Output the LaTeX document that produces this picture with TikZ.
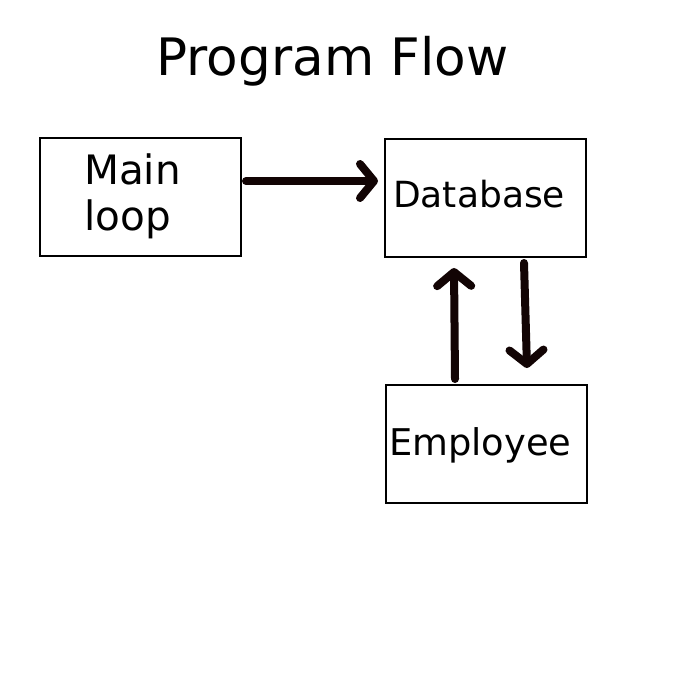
\documentclass[tikz,border=0pt]{standalone}
\usepackage{fontspec}
\setmainfont{DejaVu Sans}
\usetikzlibrary{arrows.meta}
\definecolor{arrowc}{RGB}{18,4,4}
\tikzset{
  box/.style={draw=black, line width=1.5pt, minimum width=201pt, minimum height=118pt, inner sep=0pt},
  txt/.style={inner sep=0pt, anchor=base west},
  flow/.style={draw=arrowc, line width=8pt, line cap=round, line join=round,
    -{Straight Barb[length=14pt, width=34pt, round]}},
}
\begin{document}
\begin{tikzpicture}[x=1pt, y=-1pt]
\useasboundingbox[fill=white] (0,0) rectangle (700,700);
\node[inner sep=0pt, anchor=base] (title) at (332.5,76) {\fontsize{51.6}{60}\selectfont Program Flow};
\node[box] (main) at (140.5,197) {};
\node[box] (db) at (485.5,198) {};
\node[box] (emp) at (486.5,444) {};
\node[txt] (mainl1) at (84,185) {\fontsize{40.5}{46}\selectfont Main};
\node[txt] (mainl2) at (84,231) {\fontsize{40.5}{46}\selectfont loop};
\node[txt] (dbl) at (393,208) {\fontsize{36}{40}\selectfont Database};
\node[txt] (empl) at (389,455) {\fontsize{36.8}{40}\selectfont Employee};
\coordinate (a1s) at (246,181);
\coordinate (a1e) at (378,181);
\coordinate (a2s) at (455,379);
\coordinate (a2e) at (454,268);
\coordinate (a3s) at (524,263);
\coordinate (a3e) at (527,368);
\draw[flow] (a1s) -- (a1e);
\draw[flow] (a2s) -- (a2e);
\draw[flow] (a3s) -- (a3e);
\end{tikzpicture}
\end{document}
